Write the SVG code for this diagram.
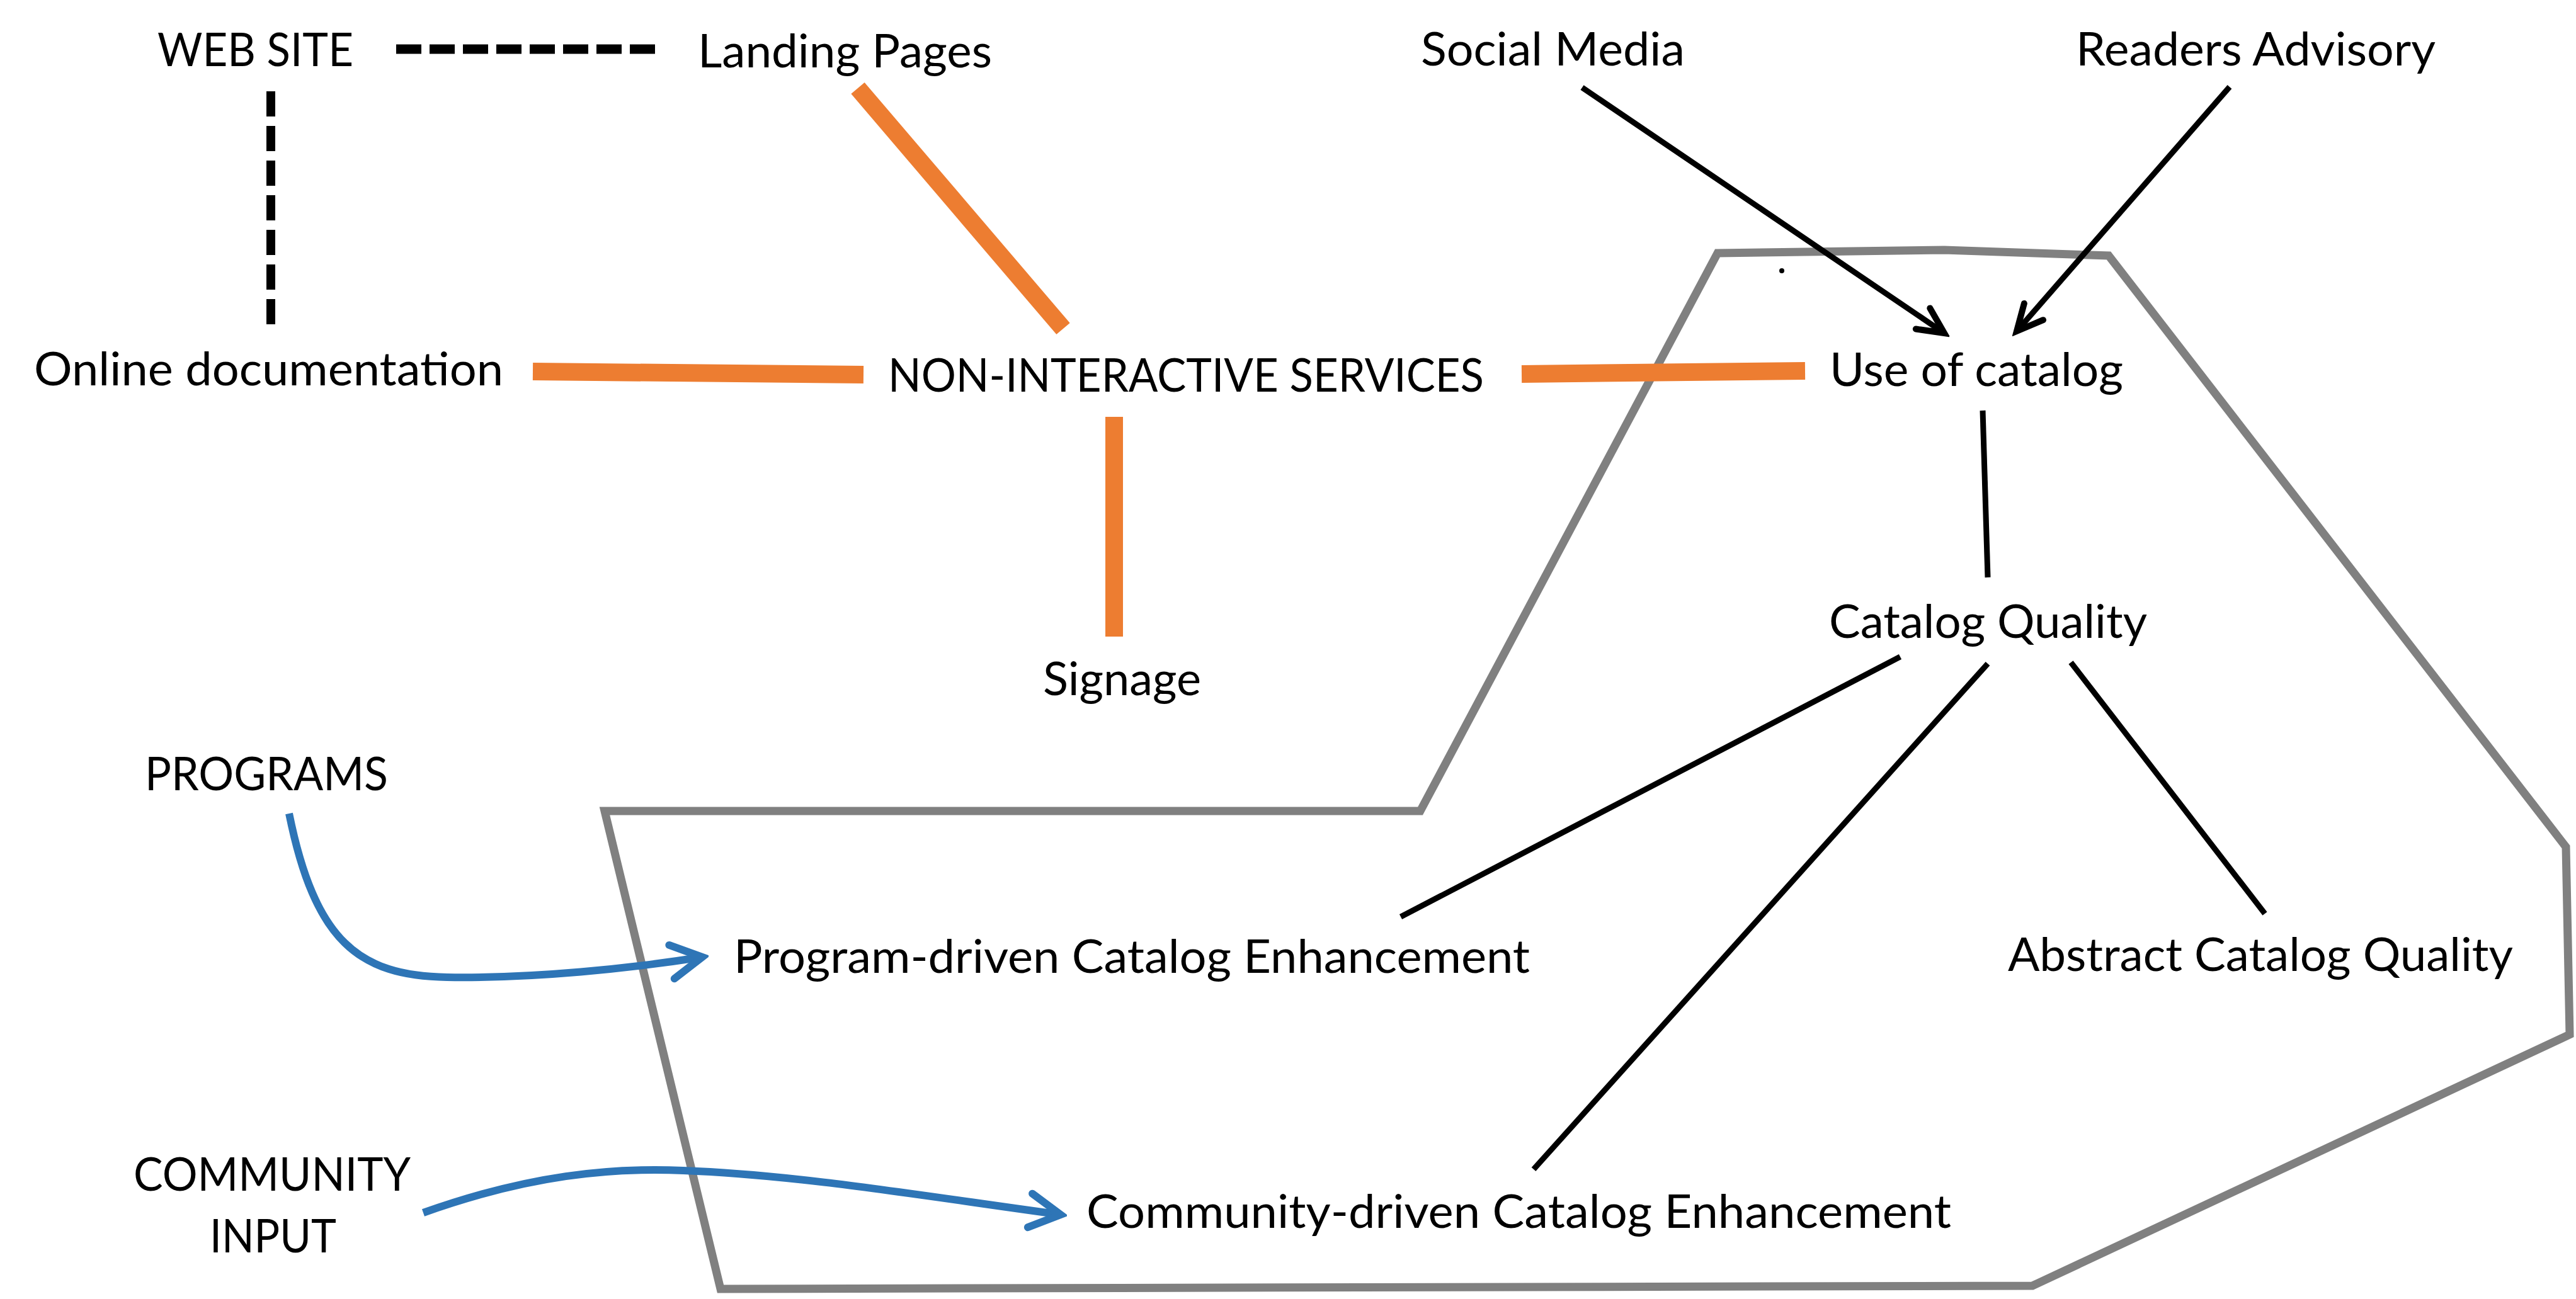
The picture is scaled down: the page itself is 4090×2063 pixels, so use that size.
<svg xmlns="http://www.w3.org/2000/svg" width="4090" height="2063" viewBox="0 0 4090 2063">
  <style>
    .lbl { font-family: Lato, "Open Sans", "Liberation Sans", sans-serif; font-size: 73px; fill: #000; }
    .orange { stroke: #ED7D31; stroke-width: 28; fill: none; }
    .dash-h { stroke: #000; stroke-width: 15; stroke-dasharray: 40 13; fill: none; }
    .dash-v { stroke: #000; stroke-width: 14; stroke-dasharray: 40 15; fill: none; }
    .black { stroke: #000; stroke-width: 9; fill: none; stroke-linecap: butt; }
    .blue { stroke: #2E75B6; stroke-width: 12; fill: none; }
    .region { stroke: #808080; stroke-width: 13; fill: none; stroke-linejoin: miter; }
  </style>
  <defs>
    <marker id="arrow-black" markerUnits="userSpaceOnUse" viewBox="-50 -30 60 60" refX="0" refY="0" markerWidth="60" markerHeight="60" orient="auto">
      <path d="M-41,-20 L0,0 L-41,20" fill="none" stroke="#000" stroke-width="10" stroke-linecap="round" stroke-linejoin="miter"/>
    </marker>
    <marker id="arrow-blue" markerUnits="userSpaceOnUse" viewBox="-60 -40 70 80" refX="0" refY="0" markerWidth="70" markerHeight="80" orient="auto">
      <path d="M-49,-27 L0,0 L-49,27" fill="none" stroke="#2E75B6" stroke-width="12" stroke-linecap="round"/>
    </marker>
  </defs>

  <rect width="4090" height="2063" fill="#fff"/>

  <!-- catalog region outline -->
  <g id="catalog-region">
    <polygon class="region" points="2727,402 3087,397 3348,406 4074,1345 4080,1643 3227,2042 1144,2047 960,1288 2255,1288"/>
    <circle cx="2829" cy="430" r="4" fill="#000"/>
  </g>

  <!-- connectors -->
  <g id="connectors">
    <line class="dash-h" x1="629" y1="78" x2="1050" y2="78"/>
    <line class="dash-v" x1="430" y1="145" x2="430" y2="516"/>
    <line class="orange" x1="1362" y1="140" x2="1688" y2="522"/>
    <line class="orange" x1="846" y1="590" x2="1371" y2="595"/>
    <line class="orange" x1="2416" y1="594" x2="2866" y2="589"/>
    <line class="orange" x1="1769" y1="662" x2="1769" y2="1011"/>
    <line class="black" x1="2512" y1="139" x2="3087" y2="529" marker-end="url(#arrow-black)"/>
    <line class="black" x1="3540" y1="138" x2="3202" y2="526" marker-end="url(#arrow-black)"/>
    <line class="black" stroke-width="8" x1="3148" y1="652" x2="3156" y2="917"/>
    <line class="black" stroke-width="10" x1="3017" y1="1043" x2="2224" y2="1456"/>
    <line class="black" stroke-width="8" x1="3156" y1="1054" x2="2435" y2="1857"/>
    <line class="black" stroke-width="8" x1="3288" y1="1052" x2="3596" y2="1451"/>
    <path class="blue" d="M459,1292 C500,1495 570,1550 710,1552 C850,1554 1000,1538 1115,1520" marker-end="url(#arrow-blue)"/>
    <path class="blue" d="M672,1926 C840,1866 970,1854 1085,1859 C1270,1866 1470,1900 1684,1929" marker-end="url(#arrow-blue)"/>
  </g>

  <!-- nodes -->
  <g id="web-site"><text class="lbl" x="250" y="105" textLength="311" lengthAdjust="spacingAndGlyphs">WEB SITE</text></g>
  <g id="landing-pages"><text class="lbl" x="1108" y="107" textLength="467" lengthAdjust="spacingAndGlyphs">Landing Pages</text></g>
  <g id="social-media"><text class="lbl" x="2256" y="104" textLength="419" lengthAdjust="spacingAndGlyphs">Social Media</text></g>
  <g id="readers-advisory"><text class="lbl" x="3296" y="104" textLength="571" lengthAdjust="spacingAndGlyphs">Readers Advisory</text></g>
  <g id="online-documentation"><text class="lbl" x="54" y="612" textLength="745" lengthAdjust="spacingAndGlyphs">Online documentation</text></g>
  <g id="non-interactive-services"><text class="lbl" x="1410" y="622" textLength="946" lengthAdjust="spacingAndGlyphs">NON-INTERACTIVE SERVICES</text></g>
  <g id="signage"><text class="lbl" x="1656" y="1104" textLength="251" lengthAdjust="spacingAndGlyphs">Signage</text></g>
  <g id="use-of-catalog"><text class="lbl" x="2905" y="613" textLength="466" lengthAdjust="spacingAndGlyphs">Use of catalog</text></g>
  <g id="catalog-quality"><text class="lbl" x="2904" y="1013" textLength="505" lengthAdjust="spacingAndGlyphs">Catalog Quality</text></g>
  <g id="abstract-catalog-quality"><text class="lbl" x="3188" y="1542" textLength="802" lengthAdjust="spacingAndGlyphs">Abstract Catalog Quality</text></g>
  <g id="program-driven"><text class="lbl" x="1165" y="1545" textLength="1264" lengthAdjust="spacingAndGlyphs">Program-driven Catalog Enhancement</text></g>
  <g id="community-driven"><text class="lbl" x="1725" y="1950" textLength="1373" lengthAdjust="spacingAndGlyphs">Community-driven Catalog Enhancement</text></g>
  <g id="programs"><text class="lbl" x="230" y="1255" textLength="386" lengthAdjust="spacingAndGlyphs">PROGRAMS</text></g>
  <g id="community-input">
    <text class="lbl" x="212" y="1891" textLength="440" lengthAdjust="spacingAndGlyphs">COMMUNITY</text>
    <text class="lbl" x="333" y="1989" textLength="201" lengthAdjust="spacingAndGlyphs">INPUT</text>
  </g>
</svg>
